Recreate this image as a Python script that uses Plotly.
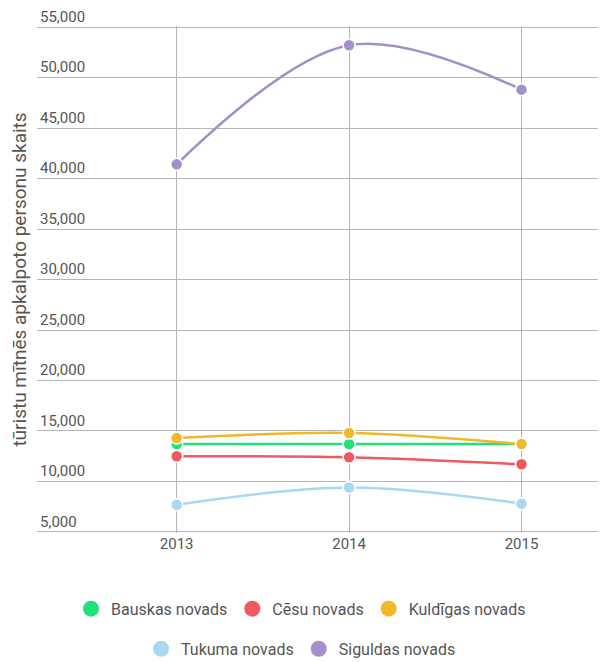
import plotly.graph_objects as go

years = ["2013", "2014", "2015"]
series_names = ["Bauskas novads", "Cēsu novads", "Kuldīgas novads", "Tukuma novads", "Siguldas novads"]
bauskas = [13700, 13700, 13700]
cesu = [12500, 12400, 11700]
kuldigas = [14300, 14800, 13700]
tukuma = [7700, 9400, 7800]
siguldas = [41400, 53200, 48800]
colors = ["#22e07a", "#f05a5f", "#f2b82c", "#a9d9f2", "#a58fcb"]
y_ticks = [5000, 10000, 15000, 20000, 25000, 30000, 35000, 40000, 45000, 50000, 55000]
y_title = "tūristu mītnēs apkalpoto personu skaits"

values = [bauskas, cesu, kuldigas, tukuma, siguldas]
legend_ids = ["legend", "legend", "legend", "legend2", "legend2"]

fig = go.Figure()
for name, vals, col in zip(series_names, values, colors):
    fig.add_trace(go.Scatter(
        x=years, y=vals, name=name, mode="lines+markers",
        line=dict(color=col, width=2.5, shape="spline", smoothing=1),
        marker=dict(color=col, size=12, line=dict(color="white", width=1.5)),
        showlegend=False,
    ))
# legend entries (circle symbols only)
for name, col, lg in zip(series_names, colors, legend_ids):
    fig.add_trace(go.Scatter(
        x=[None], y=[None], name=name, mode="markers",
        marker=dict(color=col, size=18),
        legend=lg, showlegend=True,
    ))

font = "Roboto, sans-serif"
fig.update_layout(
    width=598, height=654,
    margin=dict(l=29, r=0, t=18, b=129, autoexpand=False),
    paper_bgcolor="white", plot_bgcolor="white",
    font=dict(family=font, size=15, color="#555555"),
    xaxis=dict(
        type="category", range=[-0.81, 2.49],
        showgrid=True, gridcolor="#b5b5b5", gridwidth=1,
        showline=False, zeroline=False, ticks="",
        tickfont=dict(size=15, color="#555555"),
    ),
    yaxis=dict(
        range=[4900, 55100], tickvals=y_ticks, tickformat=",d",
        ticklabelposition="inside top", ticklabeloverflow="allow",
        showgrid=True, gridcolor="#b5b5b5", gridwidth=1,
        zeroline=False, showline=False, ticks="",
        tickfont=dict(size=15, color="#555555"),
        title=dict(text=y_title, font=dict(size=19, color="#555555"), standoff=12),
    ),
    legend=dict(orientation="h", x=0.464, xanchor="center", y=-0.116, yanchor="top",
                font=dict(size=16, color="#555555"), itemsizing="trace"),
    legend2=dict(orientation="h", x=0.464, xanchor="center", y=-0.195, yanchor="top",
                 font=dict(size=16, color="#555555"), itemsizing="trace"),
    showlegend=True,
)

fig.write_html("out.html")
